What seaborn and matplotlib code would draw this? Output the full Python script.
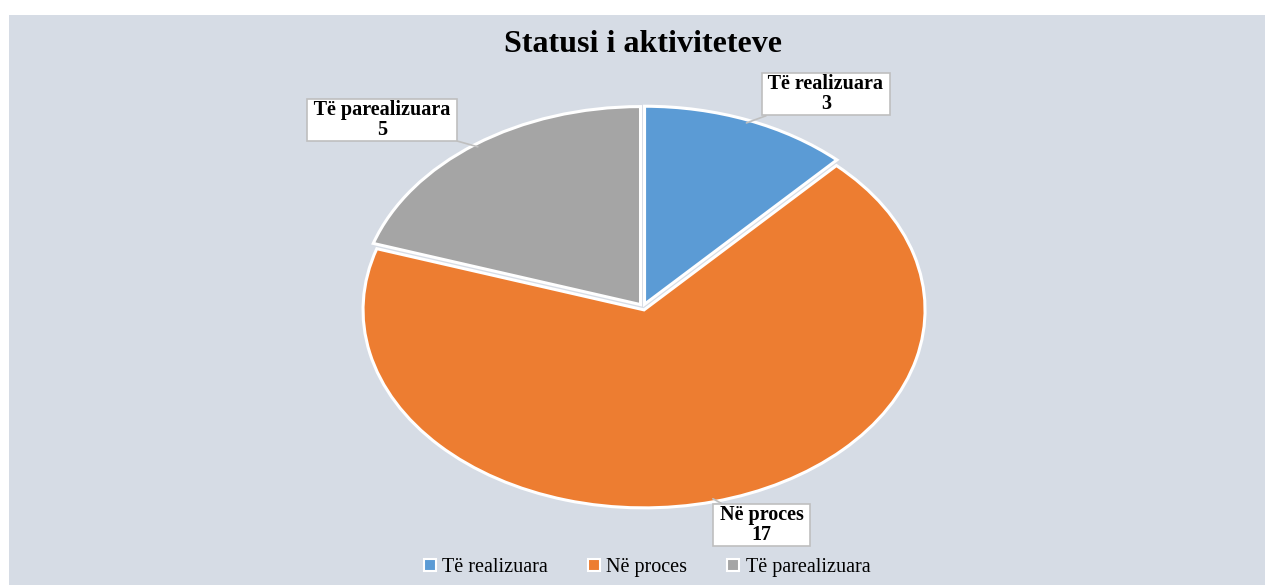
import numpy as np
import pandas as pd
import seaborn as sns
import matplotlib.pyplot as plt
from matplotlib.patches import Rectangle
from matplotlib.lines import Line2D

categories = ['Të realizuara', 'Në proces', 'Të parealizuara']
values = [3, 17, 5]
colors = ['#5b9bd5', '#ed7d31', '#a5a5a5']
title = 'Statusi i aktiviteteve'

sns.set_theme(style='white')
plt.rcParams['font.family'] = ['Liberation Serif', 'DejaVu Serif']
plt.rcParams['text.color'] = 'black'

df = pd.DataFrame({'status': categories, 'count': values})

fig = plt.figure(figsize=(12.65, 5.85), dpi=100, facecolor='white')
# chart area background
fig.patches.append(Rectangle((9 / 1265, 0), 1 - 9 / 1265, 1 - 15 / 585,
                             transform=fig.transFigure, facecolor='#d6dce5',
                             edgecolor='none', zorder=-10))

ax = fig.add_axes([0, 0, 1, 1])
ax.set_facecolor('none')
ax.axis('off')

wedges, _ = ax.pie(df['count'], colors=colors, startangle=90, counterclock=False,
                   explode=[0.015] * len(df),
                   wedgeprops=dict(edgecolor='white', linewidth=2.2))
ax.set_aspect('auto')
# stretch the pie like the reference (wider than tall)
ax.set_xlim(-643 / 281, (1265 - 643) / 281)
ax.set_ylim(-(585 - 307) / 198, 307 / 198)

# label box positions (layout, in axis units)
label_pos = [(0.651, 1.076), (0.423, -1.101), (-0.929, 0.944)]
for w, (name, v), (tx, ty) in zip(wedges, zip(df['status'], df['count']), label_pos):
    ang = np.deg2rad((w.theta1 + w.theta2) / 2)
    ax.annotate(f' {name} \n{v}', xy=(np.cos(ang), np.sin(ang)), xytext=(tx, ty),
                ha='center', va='center', fontsize=14.5, fontweight='bold',
                linespacing=0.95,
                bbox=dict(boxstyle='square,pad=0.08', facecolor='white',
                          edgecolor='#bfbfbf', linewidth=1.2),
                arrowprops=dict(arrowstyle='-', color='#bfbfbf', lw=1.2,
                                shrinkA=0, shrinkB=0))

fig.text(643 / 1265, 1 - 44 / 585, title, ha='center', va='center',
         fontsize=23, fontweight='bold')

handles = [Line2D([], [], marker='s', linestyle='none', markersize=8,
                  markerfacecolor=c, markeredgecolor='white', markeredgewidth=1.5)
           for c in colors]
fig.legend(handles, categories, loc='center', bbox_to_anchor=(645 / 1265, 18 / 585),
           ncol=3, frameon=False, fontsize=14.5, handletextpad=0.1,
           columnspacing=1.8, handlelength=1.0)

fig.savefig('out.png', dpi=100, facecolor='white')
